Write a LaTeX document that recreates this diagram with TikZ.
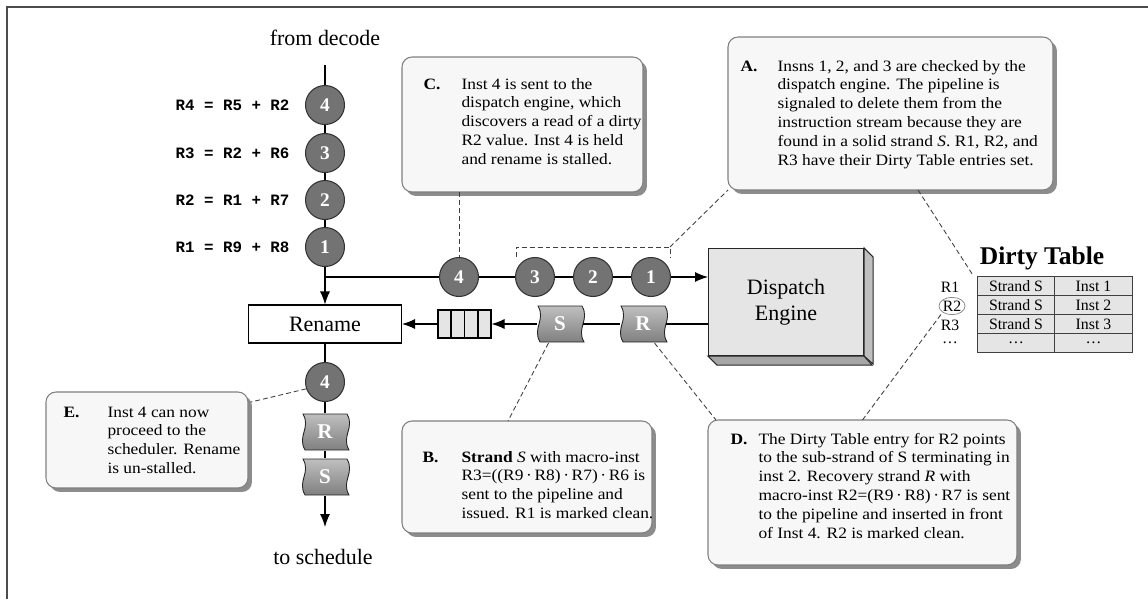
\documentclass[tikz,border=0pt]{standalone}
\usepackage{fontspec}
\setmainfont{Liberation Serif}
\setmonofont{Liberation Mono}
\newfontfamily\notefont{Liberation Serif}[FakeStretch=1.1]
\usetikzlibrary{arrows.meta, positioning, calc, shadows, shapes.geometric}

% wavy strand flag: name, position, letter
\newcommand{\flag}[3]{%
  \begin{scope}[shift={(#2)}]
    \path[flagbody] (-22,-18) -- (22,-18) .. controls (30,-4) and (16,4) .. (24,18)
      -- (-20,18) .. controls (-28,4) and (-14,-4) .. (-22,-18) -- cycle;
  \end{scope}
  \node[flagtxt] (#1) at (#2) {#3};}

\begin{document}
\begin{tikzpicture}[x=0.02cm, y=-0.02cm, line width=0.6pt, >={Latex[length=2.6mm, width=2mm]},
    inst/.style={circle, draw=black!80, fill=black!55, minimum size=0.78cm, inner sep=0pt, text=white, font=\bfseries\fontsize{11}{11}\selectfont},
    flagtxt/.style={minimum width=0.9cm, minimum height=0.74cm, inner sep=0pt, text=white, font=\bfseries\fontsize{12}{12}\selectfont},
    flagbody/.style={draw=black!85, line width=0.5pt, top color=black!25, middle color=black!75, bottom color=black!50},
    lbl/.style={font=\fontsize{12.5}{15}\selectfont, align=center},
    code/.style={anchor=east, inner sep=0pt, font=\ttfamily\bfseries\fontsize{9}{9}\selectfont},
    note/.style={rectangle, rounded corners=0.2cm, draw=black!50, fill=black!3, inner sep=0pt, outer sep=0pt, anchor=north west,
      drop shadow={shadow xshift=0.08cm, shadow yshift=-0.08cm, fill=black!45, opacity=1}},
    notetxt/.style={anchor=base west, inner sep=0pt, font=\notefont\fontsize{9}{10.8}\selectfont},
    callout/.style={dash pattern=on 2.8pt off 1.7pt, line width=0.5pt, black!75},
    cell/.style={draw=black!75, fill=black!10, minimum width=1.55cm, minimum height=0.38cm, inner sep=0pt, font=\fontsize{9}{9}\selectfont},
    rowlbl/.style={inner sep=1pt, font=\fontsize{9}{9}\selectfont}]

    \useasboundingbox (0,0) rectangle (1148,599);
    \draw[black!70, line width=1pt] (7,599) -- (7,7) -- (1148,7);

    % Nodes
    \node[lbl] (fromdec) at (325,38) {from decode};
    \coordinate (top) at (325,65);
    \node[inst] (c4) at (325,105) {4};
    \node[inst] (c3) at (325,153) {3};
    \node[inst] (c2) at (325,200) {2};
    \node[inst] (c1) at (325,247) {1};
    \node[code] (l4) at (290,105) {R4 = R5 + R2};
    \node[code] (l3) at (290,153) {R3 = R2 + R6};
    \node[code] (l2) at (290,200) {R2 = R1 + R7};
    \node[code] (l1) at (290,247) {R1 = R9 + R8};
    \coordinate (jn) at (325,277);
    \node[draw, fill=white, minimum width=3.06cm, minimum height=0.76cm, lbl] (ren) at (325,324) {Rename};

    \node[inst] (d4) at (459,277) {4};
    \node[inst] (d3) at (535,277) {3};
    \node[inst] (d2) at (593,277) {2};
    \node[inst] (d1) at (651,277) {1};

    \node[draw=black!85, fill=black!10, minimum width=3.1cm, minimum height=2.14cm, anchor=north west, lbl] (disp) at (708,248) {Dispatch\\Engine};
    \filldraw[fill=black!25, draw=black!85] (disp.north east) -- ++(9,9) -- ++(0,107) -- (disp.south east) -- cycle;
    \filldraw[fill=black!35, draw=black!85] (disp.south west) -- ++(9,9) -- ++(155,0) -- (disp.south east) -- cycle;

    \flag{flagS}{560,324}{S}
    \flag{flagR}{643,324}{R}
    \node[draw, fill=black!10, minimum width=1.06cm, minimum height=0.56cm, inner sep=0pt] (queue) at (464.5,324) {};
    \foreach \i in {1,2,3}
      \draw ($(queue.north west)!\i/4!(queue.north east)$) -- ($(queue.south west)!\i/4!(queue.south east)$);

    \node[inst] (e4) at (325,382) {4};
    \flag{flagRb}{325,432}{R}
    \flag{flagSb}{325,477}{S}
    \coordinate (bot) at (325,527);
    \node[lbl] (tosched) at (323,557) {to schedule};

    % Dirty Table
    \node[font=\bfseries\fontsize{14.5}{14.5}\selectfont] (dtitle) at (1042,258) {Dirty Table};
    \foreach \y/\b [count=\i] in {286/Inst 1, 305/Inst 2, 324/Inst 3} {
      \node[cell] (s\i) at (1016,\y) {Strand S};
      \node[cell] (n\i) at (1093.5,\y) {\b};
    }
    \node[cell] (s4) at (1016,343) {\ldots};
    \node[cell] (n4) at (1093.5,343) {\ldots};
    \node[rowlbl] (rl1) at (950,287) {R1};
    \node[rowlbl, ellipse, draw=black!50, inner xsep=0pt, inner ysep=0.5pt, line width=0.4pt] (rl2) at (952,306) {R2};
    \node[rowlbl] (rl3) at (950,325) {R3};
    \node[rowlbl] (rl4) at (950,343) {\ldots};

    % Notes
    \node[note, minimum width=6.5cm, minimum height=3.06cm] (boxA) at (728,37) {};
    \node[notetxt] (txtA) at (740,71) {\begin{tabular}[t]{@{}p{0.74cm}@{}l@{}}
      \textbf{A.} & Insns 1, 2, and 3 are checked by the\\
      & dispatch engine. The pipeline is\\
      & signaled to delete them from the\\
      & instruction stream because they are\\
      & found in a solid strand \textit{S}. R1, R2, and\\
      & R3 have their Dirty Table entries set.
    \end{tabular}};

    \node[note, minimum width=4.82cm, minimum height=2.7cm] (boxC) at (402,57) {};
    \node[notetxt] (txtC) at (423,89) {\begin{tabular}[t]{@{}p{0.76cm}@{}l@{}}
      \textbf{C.} & Inst 4 is sent to the\\
      & dispatch engine, which\\
      & discovers a read of a dirty\\
      & R2 value. Inst 4 is held\\
      & and rename is stalled.
    \end{tabular}};

    \node[note, minimum width=5cm, minimum height=2.24cm] (boxB) at (402,421) {};
    \node[notetxt] (txtB) at (422,462) {\begin{tabular}[t]{@{}p{0.78cm}@{}l@{}}
      \textbf{B.} & \textbf{Strand} \textit{S} with macro-inst\\
      & R3=((R9\,·\,R8)\,·\,R7)\,·\,R6 is\\
      & sent to the pipeline and\\
      & issued. R1 is marked clean.
    \end{tabular}};

    \node[note, minimum width=6.18cm, minimum height=2.9cm] (boxD) at (708,420) {};
    \node[notetxt] (txtD) at (730,444) {\begin{tabular}[t]{@{}p{0.56cm}@{}l@{}}
      \textbf{D.} & The Dirty Table entry for R2 points\\
      & to the sub-strand of S terminating in\\
      & inst 2. Recovery strand \textit{R} with\\
      & macro-inst R2=(R9\,·\,R8)\,·\,R7 is sent\\
      & to the pipeline and inserted in front\\
      & of Inst 4. R2 is marked clean.
    \end{tabular}};

    \node[note, minimum width=4.04cm, minimum height=1.92cm] (boxE) at (46,392) {};
    \node[notetxt] (txtE) at (63,417) {\begin{tabular}[t]{@{}p{0.88cm}@{}l@{}}
      \textbf{E.} & Inst 4 can now\\
      & proceed to the\\
      & scheduler. Rename\\
      & is un-stalled.
    \end{tabular}};

    % Edges
    \draw (top) -- (c4) -- (c3) -- (c2) -- (c1) -- (jn);
    \draw[->] (jn) -- (ren);
    \draw (jn) -- (d4) -- (d3) -- (d2) -- (d1);
    \draw[->] (d1) -- (d1 -| disp.west);
    \draw (disp.west |- flagR) -- (flagR);
    \draw (flagR) -- (flagS);
    \draw[->] (flagS) -- (queue);
    \draw[->] (queue) -- (ren);
    \draw (ren) -- (e4) -- (flagRb) -- (flagSb);
    \draw[->] (flagSb) -- (bot);

    % Callouts
    \coordinate (brL) at (516,257);
    \coordinate (brT) at (670,247);
    \coordinate (brR) at (670,257);
    \draw[callout] (brL) |- (brT) -- (brR);
    \draw[callout] (brT) -- (boxA.south west);
    \draw[callout] ($(boxA.south west)+(190,0)$) -- (dtitle.south west);
    \draw[callout] (boxC.south -| d4) -- (d4);
    \draw[callout] ($(flagS.south)!0.5!(flagS.south west)$) -- ($(boxB.north)+(-19,0)$);
    \draw[callout] ($(flagR.south)!0.5!(flagR.south east)$) -- ($(boxD.north west)+(8,0)$);
    \draw[callout] (boxD.north) -- (rl2.south west);
    \draw[callout] (e4.200) -- ($(boxE.north east)+(3,10)$);
\end{tikzpicture}
\end{document}
